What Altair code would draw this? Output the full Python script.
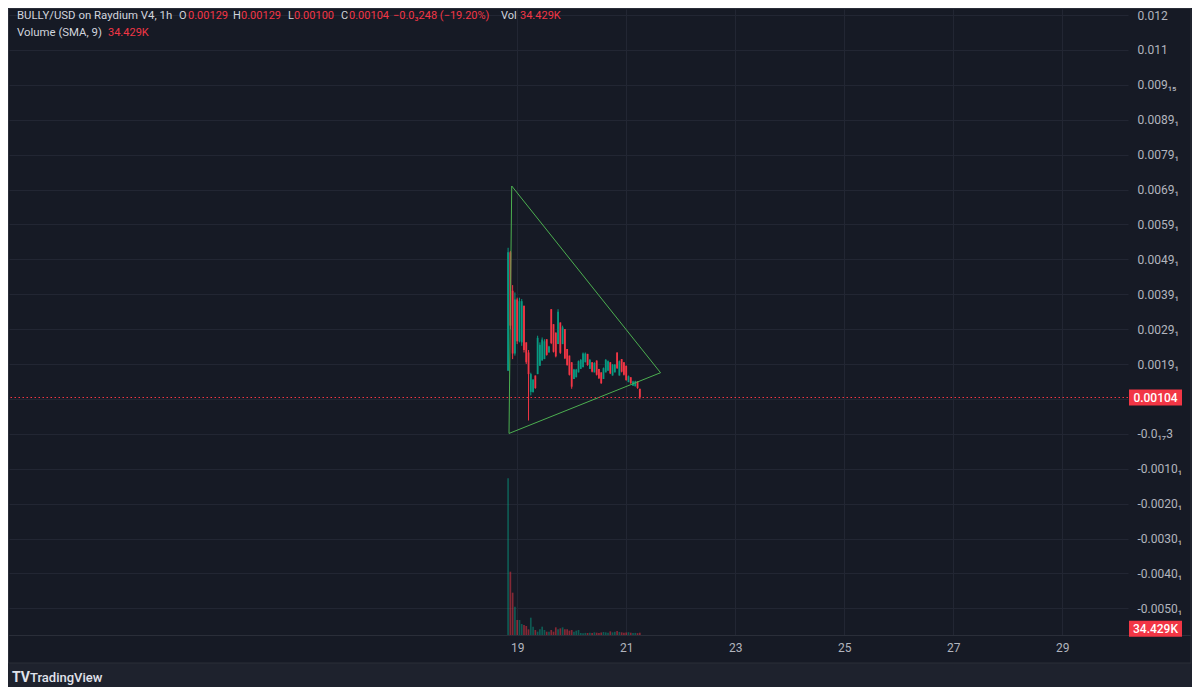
import json
import altair as alt
import pandas as pd

# ---------------- data ----------------
start_day = 18 + 20 / 24  # first hourly candle: 18th, 20:00
opens = [0.00181, 0.00520, 0.00410, 0.00230, 0.00385, 0.00265, 0.00262, 0.00367, 0.00262, 0.00233,
         0.00120, 0.00119, 0.00167, 0.00171, 0.00195, 0.00210, 0.00214, 0.00271, 0.00233, 0.00357,
         0.00314, 0.00290, 0.00257, 0.00319, 0.00257, 0.00300, 0.00243, 0.00224, 0.00205, 0.00157,
         0.00162, 0.00176, 0.00186, 0.00191, 0.00205, 0.00229, 0.00186, 0.00205, 0.00176, 0.00210,
         0.00186, 0.00176, 0.00157, 0.00176, 0.00181, 0.00205, 0.00167, 0.00176, 0.00233, 0.00167,
         0.00214, 0.00205, 0.00195, 0.00148, 0.00162, 0.00138, 0.00136, 0.00150, 0.00129]
highs = [0.00533, 0.00524, 0.00426, 0.00405, 0.00390, 0.00390, 0.00386, 0.00367, 0.00262, 0.00240,
         0.00175, 0.00157, 0.00167, 0.00281, 0.00262, 0.00276, 0.00271, 0.00271, 0.00252, 0.00357,
         0.00314, 0.00290, 0.00357, 0.00319, 0.00310, 0.00300, 0.00243, 0.00224, 0.00205, 0.00186,
         0.00186, 0.00210, 0.00214, 0.00233, 0.00233, 0.00229, 0.00214, 0.00205, 0.00205, 0.00210,
         0.00186, 0.00176, 0.00190, 0.00214, 0.00210, 0.00205, 0.00200, 0.00200, 0.00233, 0.00210,
         0.00214, 0.00205, 0.00195, 0.00167, 0.00162, 0.00152, 0.00152, 0.00150, 0.00129]
lows = [0.00181, 0.00300, 0.00214, 0.00224, 0.00257, 0.00262, 0.00252, 0.00233, 0.00200, 0.00038,
        0.00110, 0.00119, 0.00129, 0.00171, 0.00195, 0.00210, 0.00214, 0.00224, 0.00233, 0.00257,
        0.00233, 0.00219, 0.00257, 0.00229, 0.00257, 0.00214, 0.00195, 0.00167, 0.00129, 0.00157,
        0.00162, 0.00176, 0.00186, 0.00191, 0.00205, 0.00195, 0.00186, 0.00176, 0.00176, 0.00167,
        0.00157, 0.00143, 0.00157, 0.00176, 0.00181, 0.00171, 0.00167, 0.00176, 0.00186, 0.00167,
        0.00176, 0.00167, 0.00152, 0.00148, 0.00143, 0.00138, 0.00136, 0.00129, 0.00100]
closes = [0.00520, 0.00310, 0.00230, 0.00385, 0.00265, 0.00380, 0.00380, 0.00240, 0.00205, 0.00171,
          0.00171, 0.00155, 0.00131, 0.00275, 0.00255, 0.00270, 0.00265, 0.00226, 0.00250, 0.00260,
          0.00235, 0.00222, 0.00350, 0.00232, 0.00305, 0.00216, 0.00197, 0.00169, 0.00135, 0.00184,
          0.00184, 0.00208, 0.00212, 0.00230, 0.00230, 0.00197, 0.00212, 0.00178, 0.00203, 0.00169,
          0.00159, 0.00145, 0.00188, 0.00212, 0.00208, 0.00173, 0.00198, 0.00198, 0.00188, 0.00208,
          0.00178, 0.00169, 0.00154, 0.00165, 0.00145, 0.00150, 0.00150, 0.00131, 0.00104]
volumes_k = [2350, 950, 635, 425, 225, 225, 165, 150, 135, 85,
             260, 125, 75, 50, 85, 125, 75, 50, 50, 75,
             50, 115, 85, 100, 115, 85, 85, 65, 75, 50,
             65, 75, 30, 28, 32, 30, 35, 30, 40, 35,
             30, 38, 45, 40, 35, 55, 40, 48, 60, 45,
             40, 35, 38, 42, 35, 30, 32, 28, 34.429]

# triangle drawing (day, price)
tri_day = [18.90, 21.63, 18.85, 18.90]
tri_price = [0.00710, 0.00175, 0.00001, 0.00710]

last_price = 0.00104
last_volume_k = 34.429

x_ticks = [19, 21, 23, 25, 27, 29]
y_ticks = [0.012, 0.011, 0.010, 0.009, 0.008, 0.007, 0.006, 0.005, 0.004, 0.003, 0.002,
           0.001, 0.0, -0.001, -0.002, -0.003, -0.004, -0.005]
y_labels = ["0.012", "0.011", "0.009₁₅", "0.0089₁", "0.0079₁", "0.0069₁", "0.0059₁",
            "0.0049₁", "0.0039₁", "0.0029₁", "0.0019₁", "", "-0.0₁₇3", "-0.0010₁",
            "-0.0020₁", "-0.0030₁", "-0.0040₁", "-0.0050₁"]

# ---------------- styles ----------------
TEAL = "#089981"
RED = "#f23645"
GREEN = "#4caf50"
INNER = "#161a25"
OUTER = "#1e222d"
BORDER = "#2a2e39"
GRID = "#222633"
AXC = "#b2b5be"
HDR = "#d1d4dc"
FONT = "Roboto"

W, H = 1119, 626

df = pd.DataFrame({
    "t": [start_day + i / 24 for i in range(len(opens))],
    "open": opens, "high": highs, "low": lows, "close": closes, "vol": volumes_k,
})
df["dir"] = ["up" if c >= o else "down" for o, c in zip(df["open"], df["close"])]
tri = pd.DataFrame({"tx": tri_day, "ty": tri_price, "k": list(range(len(tri_day)))})
one = alt.Data(values=[{}])

xs = alt.Scale(domain=[9.769, 30.114], nice=False, zero=False)
ys = alt.Scale(domain=[-0.005765, 0.012172], nice=False, zero=False)
vs = alt.Scale(domain=[0, 9390], nice=False, zero=False)
cs = alt.Scale(domain=["up", "down"], range=[TEAL, RED])

x_axis = alt.Axis(values=x_ticks, format="d", grid=True, gridColor=GRID, domain=False,
                  ticks=False, labelColor=AXC, labelFontSize=12, labelFont=FONT,
                  labelPadding=7, title=None)
label_expr = "[" + ",".join(json.dumps(s, ensure_ascii=False) for s in y_labels) + \
             "][round((0.012 - datum.value) * 1000)]"
y_axis = alt.Axis(orient="right", values=y_ticks, labelExpr=label_expr, grid=True,
                  gridColor=GRID, domain=False, ticks=False, labelColor=AXC,
                  labelFontSize=12, labelFont=FONT, labelPadding=9, labelAlign="left",
                  labelBaseline="middle", title=None)


def X(field):
    return alt.X(f"{field}:Q", scale=xs, axis=x_axis)


color = alt.Color("dir:N", scale=cs, legend=None)

band = alt.Chart(one).mark_rect(fill=OUTER).encode(
    x=alt.value(-2), x2=alt.value(1184), y=alt.value(654), y2=alt.value(700))
frame = alt.Chart(one).mark_rect(fillOpacity=0, stroke=BORDER, strokeWidth=1).encode(
    x=alt.value(-0.5), x2=alt.value(1182), y=alt.value(-0.5), y2=alt.value(654))
sep = alt.Chart(one).mark_rule(color=BORDER).encode(
    x=alt.value(0), x2=alt.value(1182), y=alt.value(626.5))

vol = alt.Chart(df).mark_bar(size=1.7, opacity=0.5).encode(
    x=X("t"), y=alt.Y("vol:Q", scale=vs, axis=None), color=color)
wick = alt.Chart(df).mark_rule(strokeWidth=1).encode(
    x=X("t"), y=alt.Y("low:Q", scale=ys, axis=None), y2="high:Q", color=color)
body = alt.Chart(df).mark_bar(size=1.8).encode(
    x=X("t"), y=alt.Y("open:Q", scale=ys, axis=y_axis), y2="close:Q", color=color)
triangle = alt.Chart(tri).mark_line(color=GREEN, strokeWidth=1).encode(
    x=X("tx"), y=alt.Y("ty:Q", scale=ys, axis=None), order="k:Q")

pl = pd.DataFrame({"p": [last_price], "lbl": [f"{last_price:.5f}"]})
price_line = alt.Chart(pl).mark_rule(color=RED, strokeDash=[1.5, 2.5], strokeWidth=1).encode(
    y=alt.Y("p:Q", scale=ys, axis=None))
price_box = alt.Chart(pl).mark_rule(color=RED, strokeWidth=16).encode(
    x=alt.value(1120), x2=alt.value(1173), y=alt.Y("p:Q", scale=ys, axis=None))
price_txt = alt.Chart(pl).mark_text(color="white", font=FONT, fontSize=12, fontWeight=500,
                                    align="center", baseline="middle").encode(
    x=alt.value(1146.5), y=alt.Y("p:Q", scale=ys, axis=None), text="lbl:N")

vl = pd.DataFrame({"v": [last_volume_k], "lbl": [f"{last_volume_k:.3f}K"]})
vol_box = alt.Chart(vl).mark_rule(color=RED, strokeWidth=16, yOffset=-4).encode(
    x=alt.value(1120), x2=alt.value(1173), y=alt.Y("v:Q", scale=vs, axis=None))
vol_txt = alt.Chart(vl).mark_text(color="white", font=FONT, fontSize=12, fontWeight=500,
                                  align="center", baseline="middle", yOffset=-4).encode(
    x=alt.value(1146.5), y=alt.Y("v:Q", scale=vs, axis=None), text="lbl:N")


def txt(s, px, py, col, size=11, weight="normal"):
    return alt.Chart(one).mark_text(text=s, color=col, font=FONT, fontSize=size,
                                    fontWeight=weight, align="left",
                                    baseline="middle").encode(
        x=alt.value(px), y=alt.value(py))


L1, L2 = 6.5, 23.5
header = [
    txt("BULLY/USD on Raydium V4, 1h", 8, L1, HDR, 11.4),
    txt("O", 170, L1, HDR), txt("0.00129", 179, L1, RED),
    txt("H", 224, L1, HDR), txt("0.00129", 232, L1, RED),
    txt("L", 279, L1, HDR), txt("0.00100", 285, L1, RED),
    txt("C", 332, L1, HDR), txt("0.00104", 340, L1, RED),
    txt("−0.0₃248 (−19.20%)", 384, L1, RED),
    txt("Vol", 492, L1, HDR), txt("34.429K", 511, L1, RED),
    txt("Volume (SMA, 9)", 8, L2, HDR, 11.4), txt("34.429K", 99, L2, RED),
    txt("TV", 3, 669, "#e0e3eb", 14, "bold"),
    txt("TradingView", 21, 669, "#e0e3eb", 13, 500),
]

chart = alt.layer(
    band, frame, sep, vol, wick, body, triangle, price_line,
    price_box, price_txt, vol_box, vol_txt, *header
).resolve_scale(y="independent").properties(
    width=W, height=H,
    padding={"left": 1, "top": 1, "right": 64, "bottom": 52},
    autosize=alt.AutoSizeParams(type="none"),
    background=INNER,
).configure_view(stroke=None)

chart.save("out.html", embed_options={"renderer": "svg", "actions": False})
